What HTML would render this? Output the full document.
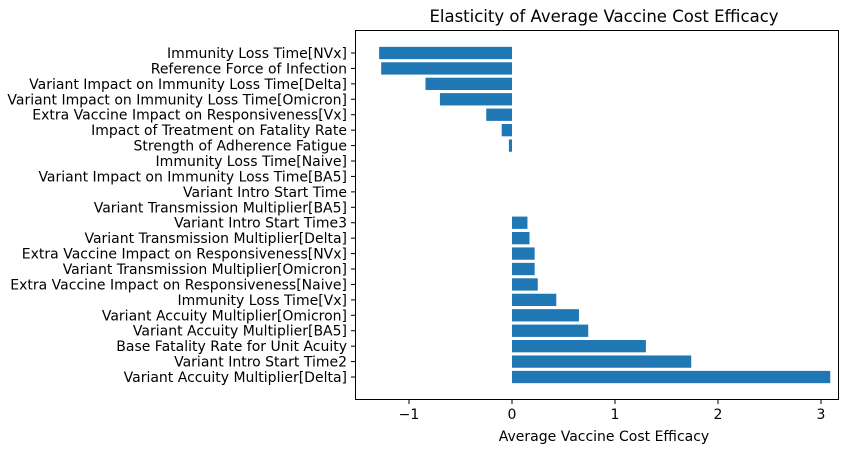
<!DOCTYPE html>
<html><head><meta charset="utf-8"><style>
body{margin:0;background:#fff;font-family:"Liberation Sans","DejaVu Sans",sans-serif;}
svg text{font-family:"DejaVu Sans","Liberation Sans",sans-serif;}
</style></head><body>
<svg id="chart" width="862" height="453" xmlns="http://www.w3.org/2000/svg">
<text x="604" y="22" text-anchor="middle" font-size="16.5" fill="#000">Elasticity of Average Vaccine Cost Efficacy</text>
<g id="bars"></g><g id="yt"></g><g id="xt"></g>
<rect x="355.5" y="30.5" width="483" height="369" fill="none" stroke="#000" stroke-width="1"/>
<text x="604" y="441" text-anchor="middle" font-size="14">Average Vaccine Cost Efficacy</text>
</svg>
<script>
const categories=["Immunity Loss Time[NVx]","Reference Force of Infection","Variant Impact on Immunity Loss Time[Delta]","Variant Impact on Immunity Loss Time[Omicron]","Extra Vaccine Impact on Responsiveness[Vx]","Impact of Treatment on Fatality Rate","Strength of Adherence Fatigue","Immunity Loss Time[Naive]","Variant Impact on Immunity Loss Time[BA5]","Variant Intro Start Time","Variant Transmission Multiplier[BA5]","Variant Intro Start Time3","Variant Transmission Multiplier[Delta]","Extra Vaccine Impact on Responsiveness[NVx]","Variant Transmission Multiplier[Omicron]","Extra Vaccine Impact on Responsiveness[Naive]","Immunity Loss Time[Vx]","Variant Accuity Multiplier[Omicron]","Variant Accuity Multiplier[BA5]","Base Fatality Rate for Unit Acuity","Variant Intro Start Time2","Variant Accuity Multiplier[Delta]"];
const values=[-1.29,-1.27,-0.84,-0.70,-0.25,-0.10,-0.03,0,0,0,0,0.15,0.17,0.22,0.22,0.25,0.43,0.65,0.74,1.30,1.74,3.09];
const xTicks=[-1,0,1,2,3];
const xTickLabels=["−1","0","1","2","3"];
const NS="http://www.w3.org/2000/svg";
const x=v=>512+v*103;
const y=i=>53+i*15.43;
const bh=12.3;
const bars=document.getElementById('bars'),yt=document.getElementById('yt'),xt=document.getElementById('xt');
categories.forEach((c,i)=>{
  const v=values[i];
  const r=document.createElementNS(NS,'rect');
  
  
  r.setAttribute('x',Math.min(x(0),x(v)));r.setAttribute('y',y(i)-bh/2);
  r.setAttribute('width',Math.abs(x(v)-x(0)));r.setAttribute('height',bh);r.setAttribute('fill','#1f77b4');
  bars.appendChild(r);
  const l=document.createElementNS(NS,'line');
  
  
  l.setAttribute('x1',351);l.setAttribute('x2',355);l.setAttribute('y1',y(i));l.setAttribute('y2',y(i));l.setAttribute('stroke','#000');
  yt.appendChild(l);
  const t=document.createElementNS(NS,'text');
  
  
  t.setAttribute('x',347);t.setAttribute('y',y(i)+5);t.setAttribute('text-anchor','end');t.setAttribute('font-size','14');
  t.textContent=c;yt.appendChild(t);
});
xTicks.forEach((v,i)=>{
  const l=document.createElementNS(NS,'line');
  
  
  l.setAttribute('x1',x(v));l.setAttribute('x2',x(v));l.setAttribute('y1',400);l.setAttribute('y2',404);l.setAttribute('stroke','#000');
  xt.appendChild(l);
  const t=document.createElementNS(NS,'text');
  
  
  t.setAttribute('x',x(v));t.setAttribute('y',419);t.setAttribute('text-anchor','middle');t.setAttribute('font-size','14');
  t.textContent=xTickLabels[i];xt.appendChild(t);
});
</script>
</body></html>
